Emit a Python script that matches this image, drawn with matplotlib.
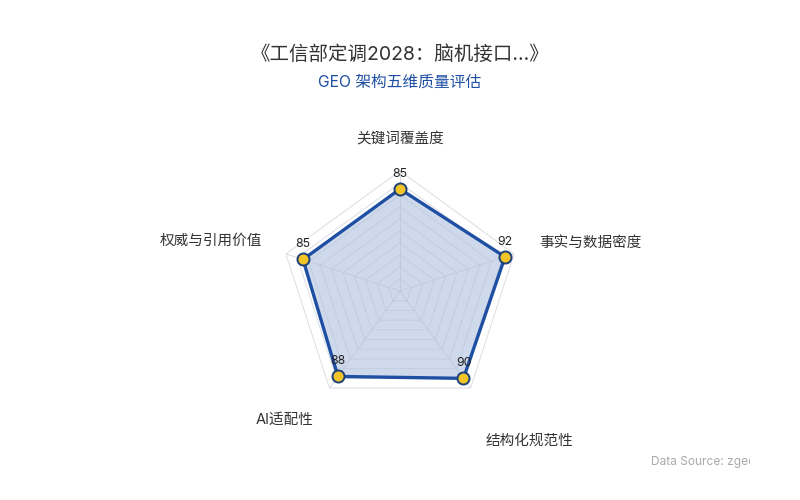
import numpy as np
import matplotlib
matplotlib.use("Agg")
import matplotlib.pyplot as plt
from matplotlib.patches import Rectangle

categories = ["关键词覆盖度", "事实与数据密度", "结构化规范性", "AI适配性", "权威与引用价值"]
values = [85, 92, 90, 88, 85]
title = "《工信部定调2028：脑机接口...》"
subtitle = "GEO 架构五维质量评估"
source = "Data Source: zgeo.ai"
rmax = 100
grid_levels = list(range(10, 101, 10))

FONT = ["Inter", "Noto Sans CJK SC", "DejaVu Sans"]
plt.rcParams["font.family"] = FONT

LINE = "#1f4fa3"
FILL = "#c9d5ea"
MARK = "#f2c526"
GRID = "#dcdce2"

fig = plt.figure(figsize=(8, 5), dpi=100)
ax = fig.add_axes([0.35, 0.178, 0.30, 0.48], projection="polar")
ax.set_theta_offset(np.pi / 2)
ax.set_theta_direction(-1)
ax.set_ylim(0, rmax)
ax.grid(False)
ax.spines["polar"].set_visible(False)
ax.set_xticks([])
ax.set_yticks([])
ax.patch.set_alpha(0)

n = len(categories)
theta = np.linspace(0, 2 * np.pi, n, endpoint=False)
tc = np.append(theta, theta[0])

vc = np.append(values, values[0])
ax.fill(tc, vc, color=FILL, alpha=0.9, zorder=1, lw=0)

for lv in grid_levels:
    ax.plot(tc, [lv] * (n + 1), color=GRID if lv == rmax else "#b9c3d6",
            lw=0.7, zorder=2, alpha=1.0 if lv == rmax else 0.55)
for t in theta:
    ax.plot([t, t], [0, rmax], color="#b9c3d6", lw=0.7, alpha=0.6, zorder=2)

ax.plot(tc, vc, color=LINE, lw=2.4, zorder=4)
ax.scatter(theta, values, s=75, color=MARK, edgecolor="#1d3f7a", linewidth=1.4, zorder=5)

for t, v in zip(theta, values):
    ax.annotate(str(v), (t, v), xytext=(0, 6.5), textcoords="offset points",
                ha="center", va="bottom", fontsize=8.8, color="#222222", zorder=6)

label_pos = [
    (0.0, 126, "center", "center"),
    (np.deg2rad(71), 123, "left", "center"),
    (np.deg2rad(139), 165, "center", "center"),
    (np.deg2rad(222), 144, "center", "center"),
    (np.deg2rad(290), 122, "right", "center"),
]
for name, (t, r, ha, va) in zip(categories, label_pos):
    ax.text(t, r, name, ha=ha, va=va, fontsize=10.5, color="#333333", clip_on=False)

fig.text(0.5, 0.892, title, ha="center", va="center", fontsize=14, color="#333333")
fig.text(0.5, 0.836, subtitle, ha="center", va="center", fontsize=11.3, color="#1f4fa3")

src = fig.text(0.814, 0.076, source, ha="left", va="center", fontsize=8.6, color="#aaaaaa")
clip = Rectangle((0, 0), 0.9375, 1, transform=fig.transFigure, visible=False)
fig.add_artist(clip)
src.set_clip_path(clip)

fig.savefig("out.png", dpi=100, facecolor="white")
